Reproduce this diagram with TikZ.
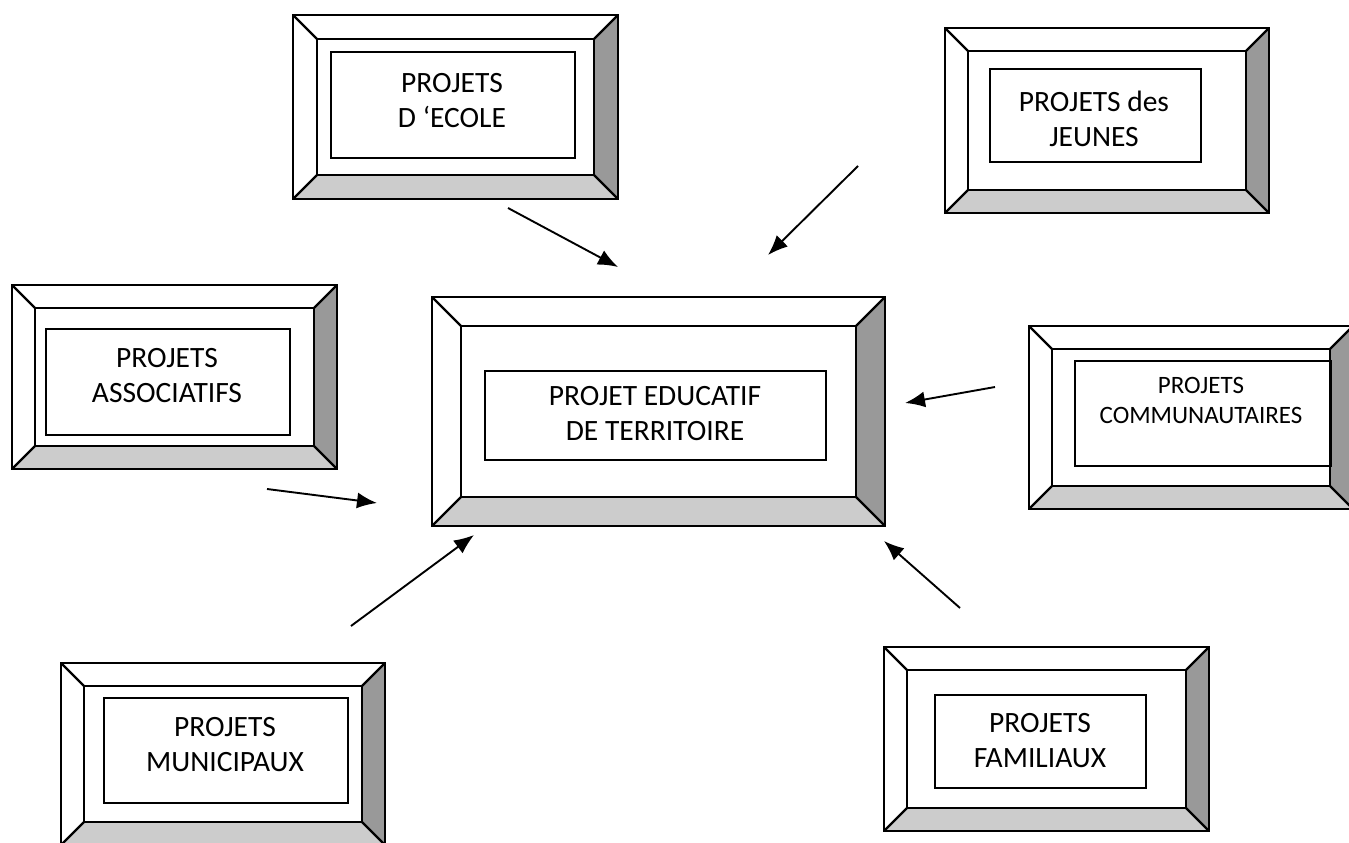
\documentclass[tikz,border=0pt]{standalone}
\usepackage{fontspec}
\setmainfont{Carlito}
\usetikzlibrary{arrows.meta}
\definecolor{bevdark}{HTML}{999999}
\definecolor{bevlight}{HTML}{CCCCCC}
\tikzset{
  frameline/.style={draw=black, line width=2.2pt, line join=miter},
  textbox/.style={draw=black, line width=2pt, anchor=north west, inner sep=0pt},
  label28/.style={align=center, inner sep=0pt, font=\fontsize{29.5}{35}\selectfont},
  label22/.style={align=center, inner sep=0pt, font=\fontsize{25}{30}\selectfont},
  link/.style={line width=1.9pt, -{Latex[length=20pt,width=16pt]}}
}
% #1 x1, #2 y1, #3 x2, #4 y2, #5 bevel
\newcommand{\bevelframe}[5]{%
  \fill[white] (#1,#2) rectangle (#3,#4);
  \fill[bevdark] (#3,#2) -- (#3,#4) -- ({#3-#5},{#4-#5}) -- ({#3-#5},{#2+#5}) -- cycle;
  \fill[bevlight] (#1,#4) -- (#3,#4) -- ({#3-#5},{#4-#5}) -- ({#1+#5},{#4-#5}) -- cycle;
  \draw[frameline] (#1,#2) rectangle (#3,#4);
  \draw[frameline] ({#1+#5},{#2+#5}) rectangle ({#3-#5},{#4-#5});
  \draw[frameline] (#1,#2) -- ({#1+#5},{#2+#5});
  \draw[frameline] (#3,#2) -- ({#3-#5},{#2+#5});
  \draw[frameline] (#1,#4) -- ({#1+#5},{#4-#5});
  \draw[frameline] (#3,#4) -- ({#3-#5},{#4-#5});
}
\begin{document}
\begin{tikzpicture}[x=1pt,y=-1pt]
\useasboundingbox (0,0) rectangle (1349,843);

% Ecole
\bevelframe{293}{15}{618}{199}{24}
\node[textbox, minimum width=244pt, minimum height=106pt] (ecolebox) at (330,51) {};
\node[label28] (ecole) at (452,101) {PROJETS\\D ‘ECOLE};

% Jeunes
\bevelframe{945}{28}{1269}{213}{23}
\node[textbox, minimum width=211pt, minimum height=93pt] (jeunesbox) at (989,68) {};
\node[label28] (jeunes) at (1094,119) {PROJETS des\\JEUNES};

% Associatifs
\bevelframe{12}{285}{337}{469}{23}
\node[textbox, minimum width=244pt, minimum height=106pt] (assocbox) at (45,328) {};
\node[label28] (assoc) at (167,376) {PROJETS\\ASSOCIATIFS};

% Central
\bevelframe{432}{297}{885}{526}{29}
\node[textbox, minimum width=341pt, minimum height=89pt] (centrebox) at (484,370) {};
\node[label28] (centre) at (655,414) {PROJET EDUCATIF\\DE TERRITOIRE};

% Communautaires
\bevelframe{1029}{326}{1353}{509}{23}
\node[textbox, minimum width=256pt, minimum height=105pt] (communbox) at (1074,360) {};
\node[label22] (commun) at (1201,400) {PROJETS\\COMMUNAUTAIRES};

% Municipaux
\bevelframe{61}{663}{385}{845}{23}
\node[textbox, minimum width=244pt, minimum height=105pt] (municbox) at (103,697) {};
\node[label28] (munic) at (225,745) {PROJETS\\MUNICIPAUX};

% Familiaux
\bevelframe{884}{647}{1209}{831}{23}
\node[textbox, minimum width=211pt, minimum height=93pt] (famillebox) at (934,694) {};
\node[label28] (famille) at (1040,741) {PROJETS\\FAMILIAUX};

% arrows
\coordinate (a1s) at (508,208); \coordinate (a1e) at (618,267);
\coordinate (a2s) at (858,166); \coordinate (a2e) at (768,255);
\coordinate (a3s) at (995,387); \coordinate (a3e) at (905,403);
\coordinate (a4s) at (267,489); \coordinate (a4e) at (377,503);
\coordinate (a5s) at (351,626); \coordinate (a5e) at (474,535);
\coordinate (a6s) at (960,608); \coordinate (a6e) at (884,541);
\draw[link] (a1s) -- (a1e);
\draw[link] (a2s) -- (a2e);
\draw[link] (a3s) -- (a3e);
\draw[link] (a4s) -- (a4e);
\draw[link] (a5s) -- (a5e);
\draw[link] (a6s) -- (a6e);
\end{tikzpicture}
\end{document}
